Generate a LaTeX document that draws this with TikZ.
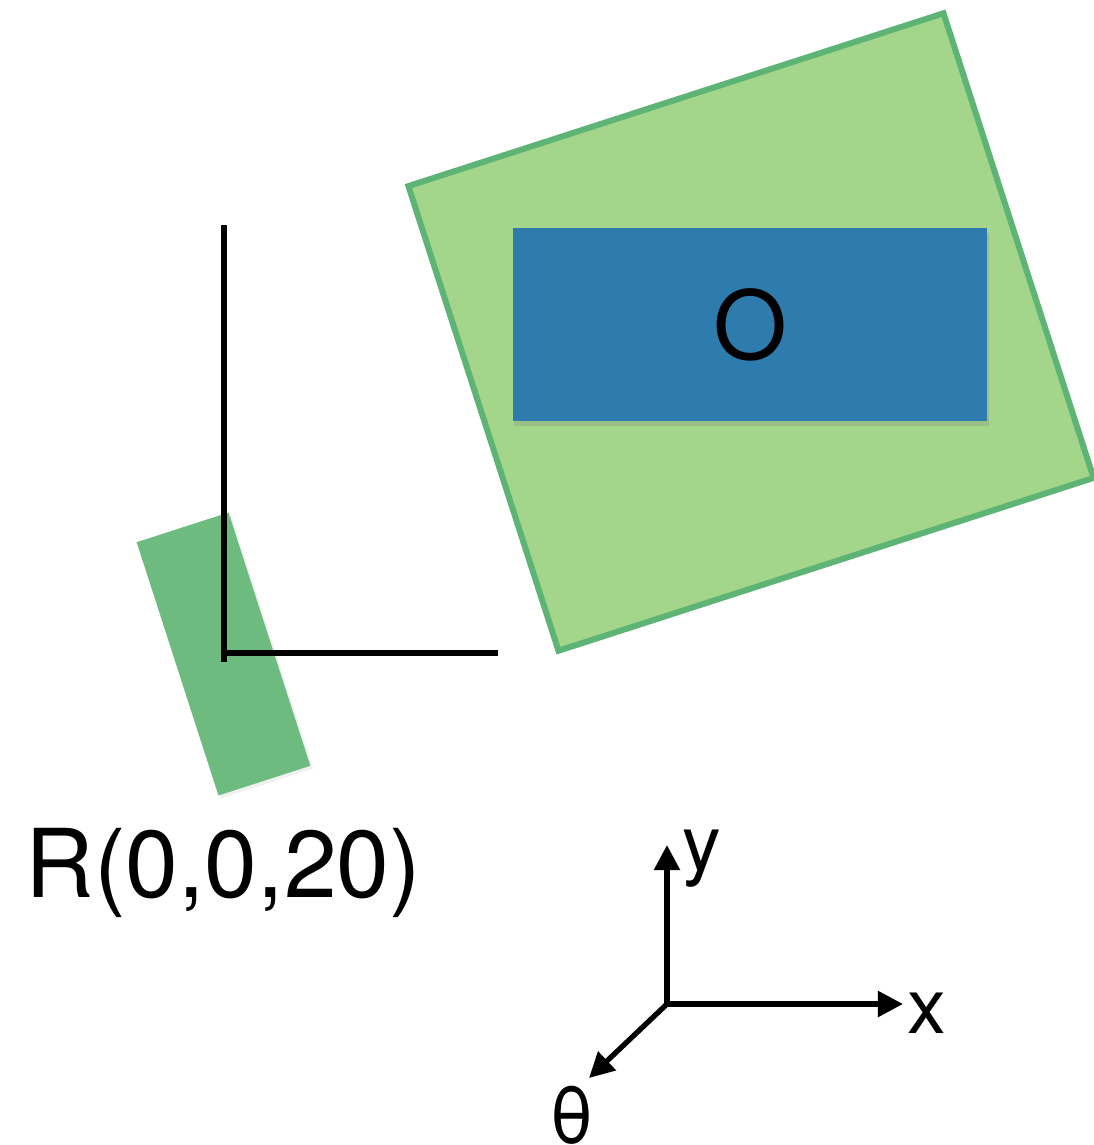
\documentclass[tikz,border=0pt]{standalone}
\usepackage{fontspec}
\setmainfont{TeX Gyre Heros}
\usetikzlibrary{arrows.meta,positioning,shadows}

\definecolor{fieldfill}{HTML}{A3D68A}
\definecolor{fieldedge}{HTML}{5DB474}
\definecolor{objfill}{HTML}{2E7BAD}
\definecolor{robotfill}{HTML}{6DBB7F}

\begin{document}
\begin{tikzpicture}[
  x=0.01cm, y=-0.01cm,
  field/.style={draw=fieldedge,fill=fieldfill,line width=1.7pt,inner sep=0pt},
  obj/.style={fill=objfill,inner sep=0pt,
    drop shadow={opacity=0.25,shadow xshift=0.4pt,shadow yshift=-1.5pt}},
  robot/.style={fill=robotfill,inner sep=0pt,
    drop shadow={opacity=0.12,shadow xshift=0.8pt,shadow yshift=-0.8pt}},
  frm/.style={line width=1.7pt,draw=black},
  ax/.style={-{Triangle[length=0.25cm,width=0.25cm]},line width=1.5pt,draw=black},
  big/.style={font=\fontsize{27}{30}\selectfont,inner sep=0pt},
  axl/.style={font=\fontsize{22}{25}\selectfont,inner sep=0pt}
]
\useasboundingbox (0,0) rectangle (1094,1145);

% ---- work area and object ----
\node[field,rotate=17.9,minimum width=5.62cm,minimum height=4.88cm] (area) at (751,332) {};
\node[obj,big,minimum width=4.74cm,minimum height=1.93cm] (obj) at (750,324.5) {O};

% ---- robot ----
\node[robot,rotate=17.9,minimum width=0.965cm,minimum height=2.66cm] (robot) at (223.5,654) {};

% robot frame
\coordinate (ftop) at (224,225);
\coordinate (fbot) at (224,662);
\coordinate (fcorner) at (224,653);
\coordinate (fright) at (498,653);
\draw[frm] (ftop) -- (fbot);
\draw[frm] (fcorner) -- (fright);

\node[big,anchor=base] (pose) at (223.5,897) {R(0,0,20)};

% ---- axes ----
\coordinate (orig) at (667,1004);
\coordinate (ytip) at (667,845);
\coordinate (xtip) at (903,1004);
\coordinate (ttip) at (589,1078);
\draw[ax] (orig) -- (ytip);
\draw[ax] (orig) -- (xtip);
\draw[ax] (orig) -- (ttip);

\node[axl] (ylbl) at (702,859) {y};
\node[axl] (xlbl) at (927,1013) {x};
\node[axl] (tlbl) at (572,1115) {θ};

\end{tikzpicture}
\end{document}
